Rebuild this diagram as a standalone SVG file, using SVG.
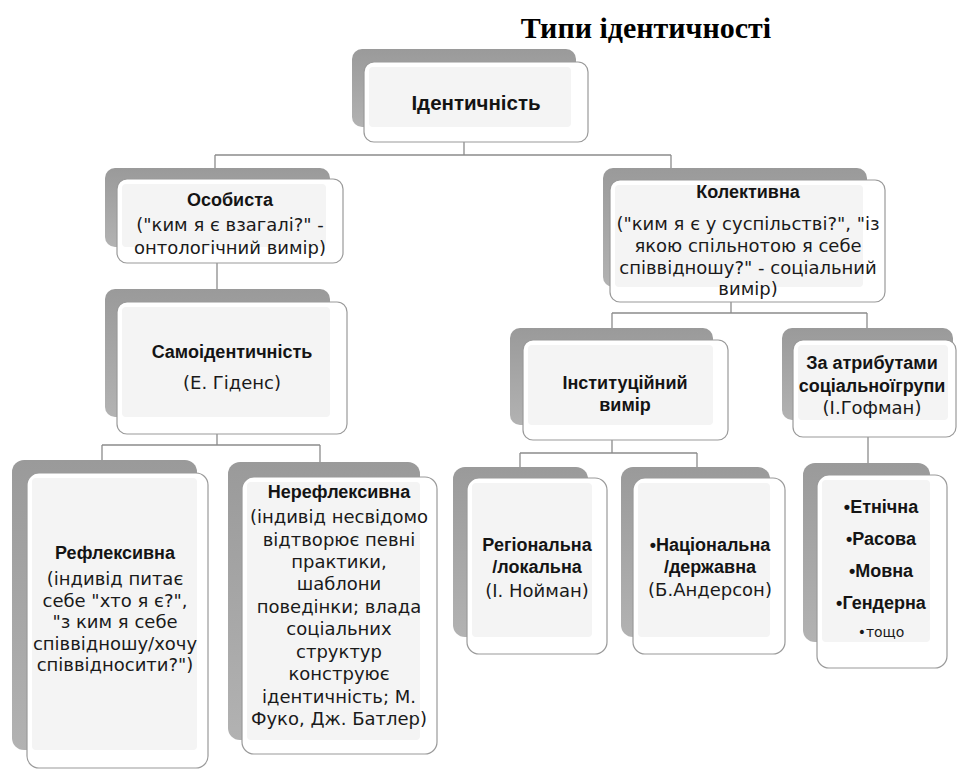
<svg xmlns="http://www.w3.org/2000/svg" width="960" height="772" viewBox="0 0 960 772">
<defs>
<linearGradient id="sh" x1="0" y1="0" x2="0" y2="1">
<stop offset="0" stop-color="#9a9a9a"/>
<stop offset="1" stop-color="#b2b2b2"/>
</linearGradient>
<style>
.sh{fill:url(#sh);stroke:none}
.fr{fill:#ffffff;stroke:#9a9a9a;stroke-width:1.2}
.in{fill:#f4f4f4;stroke:none}
.con{fill:none;stroke:#8c8c8c;stroke-width:1.3}
.h{font-family:"Liberation Sans",Arial,sans-serif;font-weight:bold;font-size:18px;fill:#141414;text-anchor:middle}
.b{font-family:"DejaVu Sans","Liberation Sans",sans-serif;font-size:18px;fill:#1a1a1a;text-anchor:middle}
.s{font-family:"DejaVu Sans","Liberation Sans",sans-serif;font-size:14px;fill:#1a1a1a;text-anchor:middle}
.t{font-family:"Liberation Serif","Times New Roman",serif;font-weight:bold;font-size:30px;fill:#000;text-anchor:middle}
</style>
</defs>
<rect width="960" height="772" fill="#ffffff"/>
<text class="t" x="646" y="38">Типи ідентичності</text>

<g id="connectors">
<path class="con" d="M464,142 V155 M215,155 H671 M215,155 V172 M671,155 V172"/>
<path class="con" d="M217,263 V292"/>
<path class="con" d="M217,434 V445 M102,445 H320 M102,445 V462 M320,445 V464"/>
<path class="con" d="M731,302 V313 M612,313 H867 M612,313 V330 M867,313 V330"/>
<path class="con" d="M612,440 V453 M520,453 H697 M520,453 V469 M697,453 V469"/>
<path class="con" d="M868,437 V465"/>
</g>

<g id="n-identity">
<rect class="sh" x="352" y="49" width="224" height="78" rx="10"/>
<rect class="fr" x="364" y="62" width="224" height="80" rx="10"/>
<rect class="in" x="369" y="67" width="202" height="60" rx="4"/>
<text class="h" x="476" y="110" style="font-size:20.5px">Ідентичність</text>
</g>

<g id="n-personal">
<rect class="sh" x="105" y="168" width="225" height="79" rx="10"/>
<rect class="fr" x="117" y="179" width="226" height="84" rx="10"/>
<rect class="in" x="122" y="184" width="204" height="63" rx="4"/>
<text class="h" x="230" y="206">Особиста</text>
<text class="b" x="230" y="231">("ким я є взагалі?" -</text>
<text class="b" x="230" y="254">онтологічний вимір)</text>
</g>

<g id="n-collective">
<rect class="sh" x="603" y="168" width="264" height="119" rx="10"/>
<rect class="fr" x="610" y="180" width="275" height="122" rx="10"/>
<rect class="in" x="615" y="185" width="248" height="102" rx="4"/>
<text class="h" x="748" y="198">Колективна</text>
<text class="b" x="748" y="230">("ким я є у суспільстві?", "із</text>
<text class="b" x="748" y="252">якою спільнотою я себе</text>
<text class="b" x="748" y="274">співвідношу?" - соціальний</text>
<text class="b" x="748" y="295">вимір)</text>
</g>

<g id="n-selfidentity">
<rect class="sh" x="105" y="289" width="225" height="128" rx="10"/>
<rect class="fr" x="117" y="302" width="230" height="132" rx="10"/>
<rect class="in" x="122" y="307" width="208" height="110" rx="4"/>
<text class="h" x="232" y="358">Самоідентичність</text>
<text class="b" x="232" y="389">(Е. Гіденс)</text>
</g>

<g id="n-reflexive">
<rect class="sh" x="12" y="460" width="185" height="290" rx="12"/>
<rect class="fr" x="27" y="473" width="181" height="295" rx="12"/>
<rect class="in" x="32" y="478" width="165" height="272" rx="4"/>
<text class="h" x="115" y="559">Рефлексивна</text>
<text class="b" x="115" y="585">(індивід питає</text>
<text class="b" x="115" y="607">себе "хто я є?",</text>
<text class="b" x="115" y="628">"з ким я себе</text>
<text class="b" x="115" y="650">співвідношу/хочу</text>
<text class="b" x="115" y="671">співвідносити?")</text>
</g>

<g id="n-nonreflexive">
<rect class="sh" x="228" y="462" width="192" height="278" rx="12"/>
<rect class="fr" x="242" y="477" width="195" height="277" rx="12"/>
<rect class="in" x="247" y="482" width="173" height="258" rx="4"/>
<text class="h" x="339" y="498">Нерефлексивна</text>
<text class="b" x="339" y="523">(індивід несвідомо</text>
<text class="b" x="339" y="546">відтворює певні</text>
<text class="b" x="339" y="568">практики,</text>
<text class="b" x="339" y="590">шаблони</text>
<text class="b" x="339" y="613">поведінки; влада</text>
<text class="b" x="339" y="635">соціальних</text>
<text class="b" x="339" y="658">структур</text>
<text class="b" x="339" y="680">конструює</text>
<text class="b" x="339" y="703">ідентичність; М.</text>
<text class="b" x="339" y="725">Фуко, Дж. Батлер)</text>
</g>

<g id="n-institutional">
<rect class="sh" x="510" y="328" width="203" height="97" rx="10"/>
<rect class="fr" x="523" y="340" width="205" height="100" rx="10"/>
<rect class="in" x="528" y="345" width="185" height="80" rx="4"/>
<text class="h" x="625" y="389">Інституційний</text>
<text class="h" x="625" y="411">вимір</text>
</g>

<g id="n-attributes">
<rect class="sh" x="782" y="328" width="171" height="92" rx="10"/>
<rect class="fr" x="793" y="340" width="163" height="97" rx="10"/>
<rect class="in" x="798" y="345" width="150" height="75" rx="4"/>
<text class="h" x="872" y="369">За атрибутами</text>
<text class="h" x="872" y="392">соціальноїгрупи</text>
<text class="b" x="872" y="414">(І.Гофман)</text>
</g>

<g id="n-regional">
<rect class="sh" x="453" y="467" width="135" height="170" rx="12"/>
<rect class="fr" x="467" y="478" width="140" height="176" rx="12"/>
<rect class="in" x="472" y="483" width="120" height="154" rx="4"/>
<text class="h" x="537" y="551">Регіональна</text>
<text class="h" x="537" y="573">/локальна</text>
<text class="b" x="537" y="597">(І. Нойман)</text>
</g>

<g id="n-national">
<rect class="sh" x="621" y="467" width="149" height="170" rx="12"/>
<rect class="fr" x="633" y="478" width="152" height="176" rx="12"/>
<rect class="in" x="638" y="483" width="132" height="154" rx="4"/>
<text class="h" x="710" y="551">•Національна</text>
<text class="h" x="710" y="573">/державна</text>
<text class="b" x="710" y="596">(Б.Андерсон)</text>
</g>

<g id="n-list">
<rect class="sh" x="803" y="463" width="127" height="179" rx="12"/>
<rect class="fr" x="817" y="475" width="130" height="193" rx="12"/>
<rect class="in" x="822" y="480" width="108" height="162" rx="4"/>
<text class="h" x="881" y="513">•Етнічна</text>
<text class="h" x="881" y="545">•Расова</text>
<text class="h" x="881" y="577">•Мовна</text>
<text class="h" x="881" y="609">•Гендерна</text>
<text class="s" x="881" y="637">•тощо</text>
</g>
</svg>
